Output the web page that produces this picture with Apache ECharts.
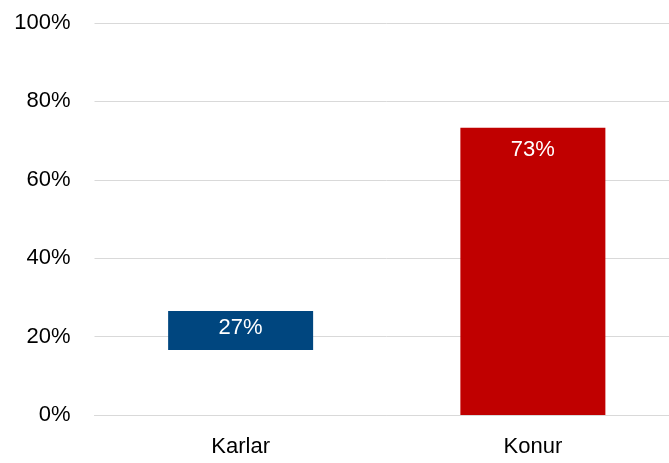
<!DOCTYPE html>
<html>
<head>
<meta charset="utf-8">
<script src="https://cdn.jsdelivr.net/npm/echarts@6/dist/echarts.min.js"></script>
<style>
    html, body { margin: 0; padding: 0; background: #fff; overflow: hidden; }
    #main { width: 679px; height: 463px; }
</style>
</head>
<body>
<div id="main"></div>
<script>
// data
var categories = ['Karlar', 'Konur'];
var baseValues = [16.6, 0];       // hidden offset under the bar
var barValues = [9.9, 73.3];      // visible part
var labels = ['27%', '73%'];
var colors = ['#00467f', '#c00000'];
var yTicks = [0, 20, 40, 60, 80, 100];

var FONT = '"Liberation Sans", Arial';

var myChart = echarts.init(document.getElementById('main'));

var visible = [];
for (var i = 0; i < barValues.length; i++) {
    visible.push({
        value: barValues[i],
        itemStyle: { color: colors[i] },
        label: { distance: i == 0 ? 6 : 11 }
    });
}

var opt = {
    animation: false,
    grid: { left: 94.5, right: 0, top: 23, bottom: 48 },
    xAxis: {
        type: 'category',
        data: categories,
        axisTick: { show: false },
        axisLine: { lineStyle: { color: '#d9d9d9' } },
        axisLabel: { color: '#000', fontSize: 22, fontFamily: FONT, margin: 21 }
    },
    yAxis: {
        type: 'value',
        min: yTicks[0],
        max: yTicks[yTicks.length - 1],
        interval: 20,
        axisLabel: {
            color: '#000', fontSize: 22, fontFamily: FONT, margin: 24,
            formatter: function (v) { return v + '%'; }
        },
        splitLine: { lineStyle: { color: '#d9d9d9' } }
    },
    series: [
        {
            type: 'bar', stack: 's', barWidth: 145,
            data: baseValues,
            itemStyle: { color: 'transparent' },
            silent: true
        },
        {
            type: 'bar', stack: 's', barWidth: 145,
            data: visible,
            label: {
                show: true, position: 'insideTop', color: '#fff',
                fontSize: 22, fontFamily: FONT,
                formatter: function (p) { return labels[p.dataIndex]; }
            }
        }
    ]
};
myChart.setOption(opt);
</script>
</body>
</html>
